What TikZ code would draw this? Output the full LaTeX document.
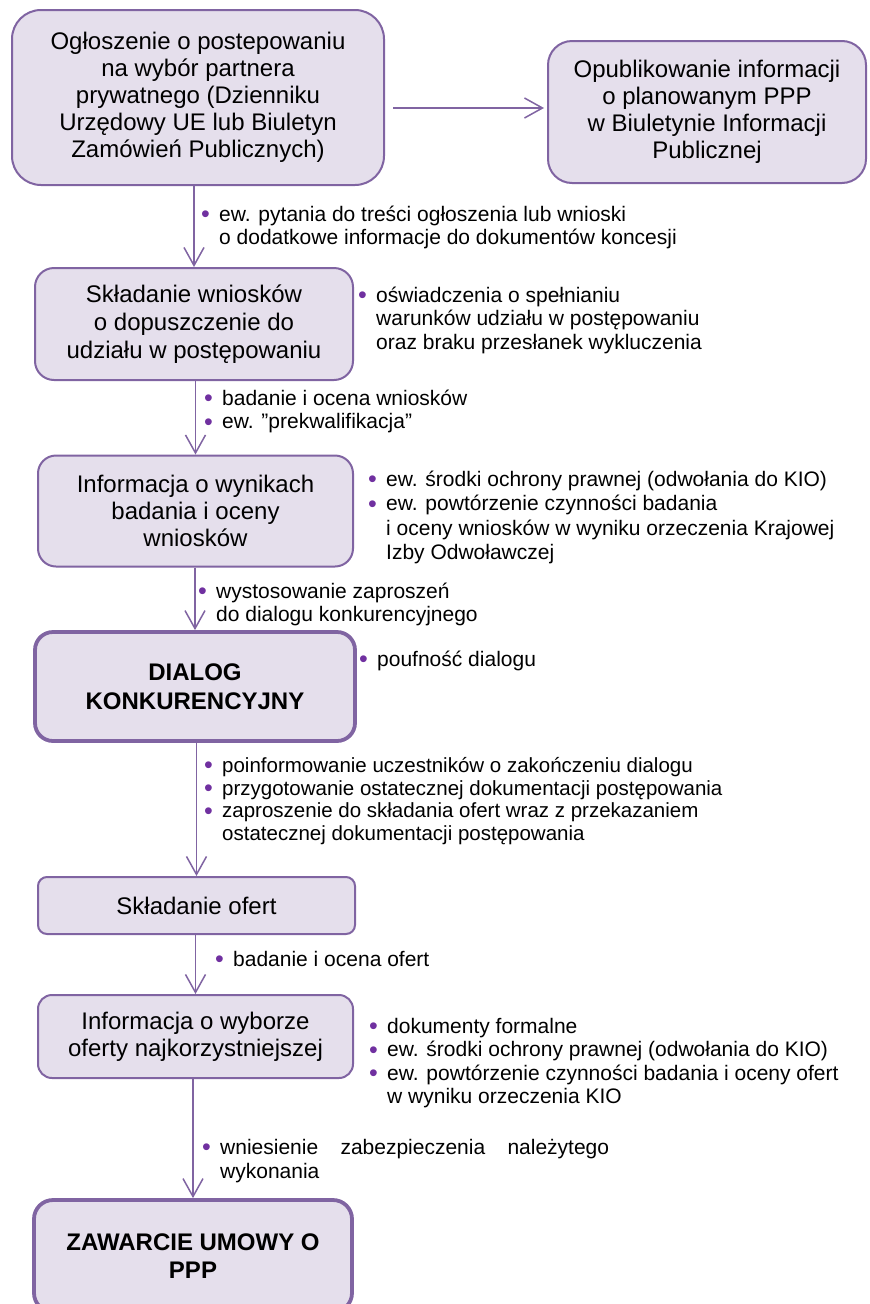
\documentclass[tikz,border=0pt]{standalone}
\usepackage{fontspec}
\setmainfont{Liberation Sans}
\usetikzlibrary{arrows.meta}
\definecolor{boxfill}{HTML}{E5DFEC}
\definecolor{boxline}{HTML}{8064A2}
\definecolor{dotc}{HTML}{7030A0}
% bullet and hanging indent for the notes beside the arrows
\newcommand{\bl}{\makebox[18pt][l]{\raisebox{-1.3pt}{\fontsize{25}{25}\selectfont\textcolor{dotc}{•}}}}
\newcommand{\ind}{\hspace*{18pt}}
\newcommand{\fst}{\rule{0pt}{18pt}}
\tikzset{
  stage/.style={draw=boxline, fill=boxfill, line width=2pt, inner sep=0pt,
    align=center, font=\fontsize{24}{27}\selectfont},
  keystage/.style={stage, line width=3.8pt, font=\fontsize{24}{28.5}\selectfont\bfseries},
  note/.style={anchor=north west, inner sep=0pt, align=left,
    font=\fontsize{21}{23.5}\selectfont},
  arr/.style={draw=boxline, line width=1.5pt, -{Straight Barb[length=18pt,width=20pt]}},
}
\begin{document}
\begin{tikzpicture}[x=1pt, y=-1pt]
\useasboundingbox (0,0) rectangle (870,1304);
\clip (0,0) rectangle (870,1304);

% main sequence of stages
\node[stage, rounded corners=29pt, minimum width=372, minimum height=175] (ogl) at (198,97.5)
  {Ogłoszenie o postepowaniu\\na wybór partnera\\prywatnego (Dzienniku\\Urzędowy UE lub Biuletyn\\Zamówień Publicznych)};
\node[stage, rounded corners=24pt, minimum width=318, minimum height=142] (bip) at (707,112)
  {Opublikowanie informacji\\o planowanym PPP\\w Biuletynie Informacji\\Publicznej};
\node[stage, rounded corners=19pt, minimum width=318, minimum height=112,
  font=\fontsize{24}{28}\selectfont] (wnioski) at (194,324)
  {Składanie wniosków\\o dopuszczenie do\\udziału w postępowaniu};
\node[stage, rounded corners=18pt, minimum width=315, minimum height=111] (wyniki) at (195.5,511)
  {Informacja o wynikach\\badania i oceny\\wniosków};
\node[keystage, rounded corners=18pt, minimum width=320, minimum height=109] (dialog) at (195,686.5)
  {DIALOG\\KONKURENCYJNY};
\node[stage, rounded corners=9pt, minimum width=317, minimum height=57] (oferty) at (196.5,905.5)
  {Składanie ofert};
\node[stage, rounded corners=14pt, minimum width=315, minimum height=83] (wybor) at (195.5,1036.5)
  {Informacja o wyborze\\oferty najkorzystniejszej};
\node[keystage, rounded corners=19pt, minimum width=318, minimum height=112] (umowa) at (193,1256)
  {ZAWARCIE UMOWY O\\PPP};

% connectors
\coordinate (hy) at (0,108);
\draw[arr, shorten <=8pt, shorten >=3pt] (ogl.east |- hy) -- (bip.west |- hy);
\draw[arr] (wnioski.north |- ogl.south) -- (wnioski.north);
\draw[arr] (wyniki.north |- wnioski.south) -- (wyniki.north);
\draw[arr] (dialog.north |- wyniki.south) -- (dialog.north);
\draw[arr] (oferty.north |- dialog.south) -- (oferty.north);
\draw[arr] (wybor.north |- oferty.south) -- (wybor.north);
\draw[arr] (umowa.north |- wybor.south) -- (umowa.north);

% notes along the arrows
\node[note] (n1) at (201,203)
  {\fst\bl ew. pytania do treści ogłoszenia lub wnioski\\\ind o dodatkowe informacje do dokumentów koncesji};
\node[note] (n2) at (204,387)
  {\fst\bl badanie i ocena wniosków\\\bl ew. ”prekwalifikacja”};
\node[note] (n3) at (198,580)
  {\fst\bl wystosowanie zaproszeń\\\ind do dialogu konkurencyjnego};
\node[note, font=\fontsize{20.5}{22.8}\selectfont] (n4) at (204,754)
  {\fst\bl poinformowanie uczestników o zakończeniu dialogu\\
   \bl przygotowanie ostatecznej dokumentacji postępowania\\
   \bl zaproszenie do składania ofert wraz z przekazaniem\\
   \ind ostatecznej dokumentacji postępowania};
\node[note] (n5) at (215,948)
  {\fst\bl badanie i ocena ofert};
\node[note, font=\fontsize{21}{24.5}\selectfont] (n6) at (202,1136)
  {\fst\bl\hbox to 389pt{wniesienie\hfil zabezpieczenia\hfil należytego}\\\ind wykonania};

% notes beside the stages
\node[note] (r1) at (358,284)
  {\fst\bl oświadczenia o spełnianiu\\\ind warunków udziału w postępowaniu\\\ind oraz braku przesłanek wykluczenia};
\node[note, font=\fontsize{21}{24.5}\selectfont] (r2) at (368,468)
  {\fst\bl ew. środki ochrony prawnej (odwołania do KIO)\\
   \bl ew. powtórzenie czynności badania\\
   \ind i oceny wniosków w wyniku orzeczenia Krajowej\\
   \ind Izby Odwoławczej};
\node[note] (r3) at (359,648)
  {\fst\bl poufność dialogu};
\node[note] (r4) at (369,1015)
  {\fst\bl dokumenty formalne\\
   \bl ew. środki ochrony prawnej (odwołania do KIO)\\
   \bl ew. powtórzenie czynności badania i oceny ofert\\
   \ind w wyniku orzeczenia KIO};
\end{tikzpicture}
\end{document}
